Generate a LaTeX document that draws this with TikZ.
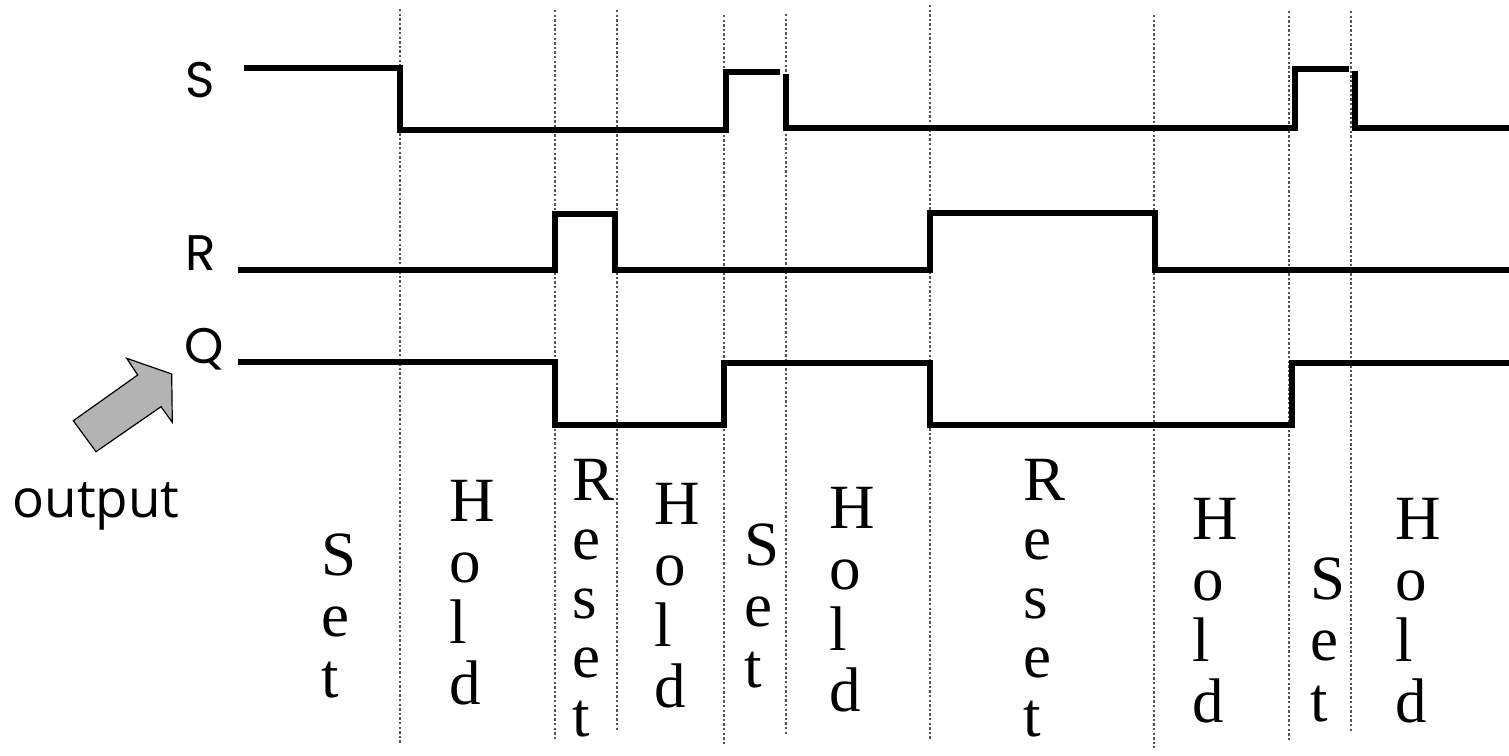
\documentclass[tikz,border=0pt]{standalone}
\usepackage{fontspec}
\setmainfont{Liberation Serif}
\newfontfamily\signalfont{Poppins}
\newfontfamily\notefont{Open Sans}
\usepackage{tikz}
\definecolor{WaveColor}{RGB}{0,0,0}
\definecolor{DividerColor}{RGB}{85,85,85}
\definecolor{PointerColor}{RGB}{179,179,179}
\tikzstyle{wave} = [line width=2.8pt, WaveColor, line join=miter]
\tikzstyle{divider} = [line width=0.6pt, DividerColor, dash pattern=on 1.2pt off 1.1pt]
\tikzstyle{siglabel} = [inner sep=0pt, font=\signalfont\fontsize{25}{25}\selectfont]
\tikzstyle{phase} = [inner sep=0pt, anchor=north west, align=left, font=\fontsize{31.5}{30.5}\selectfont]
\tikzstyle{longphase} = [phase, font=\fontsize{31.5}{29.5}\selectfont]
\tikzstyle{pointer} = [line width=0.6pt, draw=black, fill=PointerColor]

\begin{document}
\begin{tikzpicture}[x=0.5pt, y=-0.5pt]
    \useasboundingbox (0,0) rectangle (1509,755);

    % Phase boundaries
    \draw[divider] (400,9) -- (400,743);
    \draw[divider] (555,10) -- (555,740);
    \draw[divider] (617,10) -- (617,730);
    \draw[divider] (724,15) -- (724,745);
    \draw[divider] (786,14) -- (786,735);
    \draw[divider] (930,5) -- (930,740);
    \draw[divider] (1154,15) -- (1154,748);
    \draw[divider] (1289,11) -- (1289,742);
    \draw[divider] (1351,11) -- (1351,732);

    % Signal names
    \node[siglabel] (sname) at (200,80) {S};
    \node[siglabel] (rname) at (201,253) {R};
    \node[siglabel] (qname) at (204,349) {Q};

    % S input
    \draw[wave] (244,68) -| (400,130) -| (726,72) -- (780,72);
    \draw[wave] (786,74) |- (1295,128) |- (1349,69);
    \draw[wave] (1355,71) |- (1509,128);

    % R input
    \draw[wave] (238,270) -| (555,214) -| (615,270) -| (930,213) -| (1155,270) -- (1509,270);

    % Q output
    \draw[wave] (238,362) -| (555,425) -| (724,363) -| (930,425) -| (1292,363) -- (1509,363);

    % Pointer to the output
    \draw[pointer] (126.7,358.3) -- (171.7,374) -- (172.3,422.3) -- (161,406.7)
        -- (96,451.7) -- (73.3,420.7) -- (137.7,375) -- cycle;
    \node[inner sep=0pt, anchor=base, font=\notefont\fontsize{26.5}{26.5}\selectfont] (outname) at (96,517) {output};

    % Phase names
    \node[phase] (set1) at (321,533) {S\\e\\t};
    \node[phase] (hold1) at (449,480) {H\\o\\l\\d};
    \node[longphase] (reset1) at (572,459) {R\\e\\s\\e\\t};
    \node[phase] (hold2) at (654,483) {H\\o\\l\\d};
    \node[phase] (set2) at (744,523) {S\\e\\t};
    \node[phase] (hold3) at (829,487) {H\\o\\l\\d};
    \node[longphase] (reset2) at (1023,459) {R\\e\\s\\e\\t};
    \node[phase] (hold4) at (1192,498) {H\\o\\l\\d};
    \node[phase] (set3) at (1310,557) {S\\e\\t};
    \node[phase] (hold5) at (1395,498) {H\\o\\l\\d};
\end{tikzpicture}
\end{document}
